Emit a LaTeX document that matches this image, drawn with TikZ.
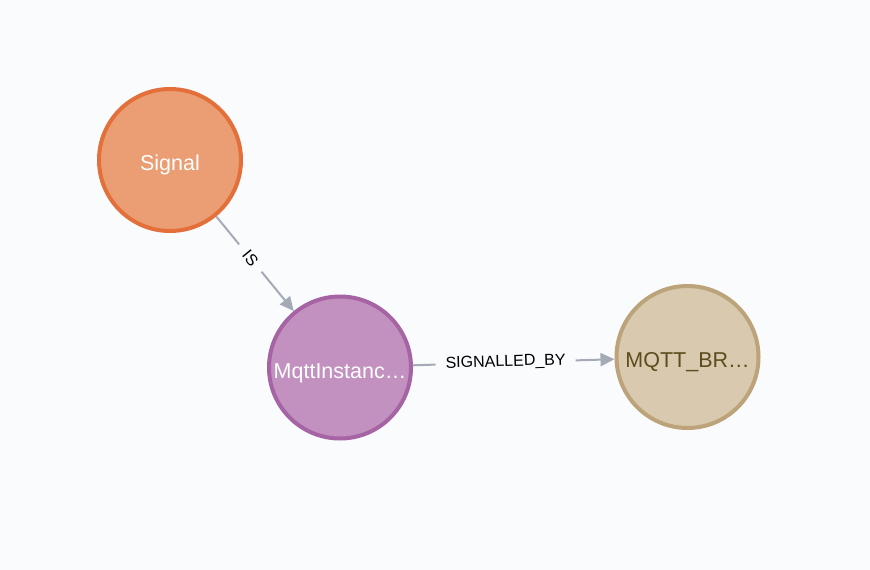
\documentclass[tikz,border=0pt]{standalone}
\usepackage{fontspec}
\setmainfont{Liberation Sans}
\usetikzlibrary{arrows.meta}
\usepackage{xcolor}
\definecolor{bg}{HTML}{F9FBFD}
\definecolor{edgegrey}{HTML}{A5ABB6}
\definecolor{sigfill}{HTML}{EB9E73}
\definecolor{sigline}{HTML}{E3703A}
\definecolor{mqfill}{HTML}{C291C0}
\definecolor{mqline}{HTML}{A664A4}
\definecolor{brfill}{HTML}{D8C9AF}
\definecolor{brline}{HTML}{BCA37A}
\definecolor{brtext}{HTML}{5E4B1E}

\begin{document}
\begin{tikzpicture}[x=1pt, y=-1pt,
    ent/.style={circle, minimum size=142pt, inner sep=0pt, line width=4pt,
        text height=21pt, text depth=0pt,
        font=\fontsize{21.5}{24}\selectfont, text=white},
    rel/.style={draw=edgegrey, line width=2pt, -{Triangle[length=14pt,width=13pt]}},
    lbl/.style={sloped, fill=bg, inner xsep=10pt, inner ysep=1pt,
        font=\fontsize{16}{18}\selectfont, text=black}]
% Canvas
\fill[bg] (0,0) rectangle (870,570);
\useasboundingbox (0,0) rectangle (870,570);

% Graph nodes
\node[ent, fill=sigfill, draw=sigline] (sig) at (170,160) {Signal};
\node[ent, fill=mqfill, draw=mqline] (mq) at (340,367.5) {MqttInstanc\ldots};
\node[ent, fill=brfill, draw=brline, text=brtext] (br) at (687.5,357) {MQTT\_BR\ldots};

% Relationships
\draw[rel] (sig) -- node[lbl, pos=0.44] {IS} (mq);
\draw[rel] (mq) -- node[lbl, pos=0.46] {SIGNALLED\_BY} (br);
\end{tikzpicture}
\end{document}
